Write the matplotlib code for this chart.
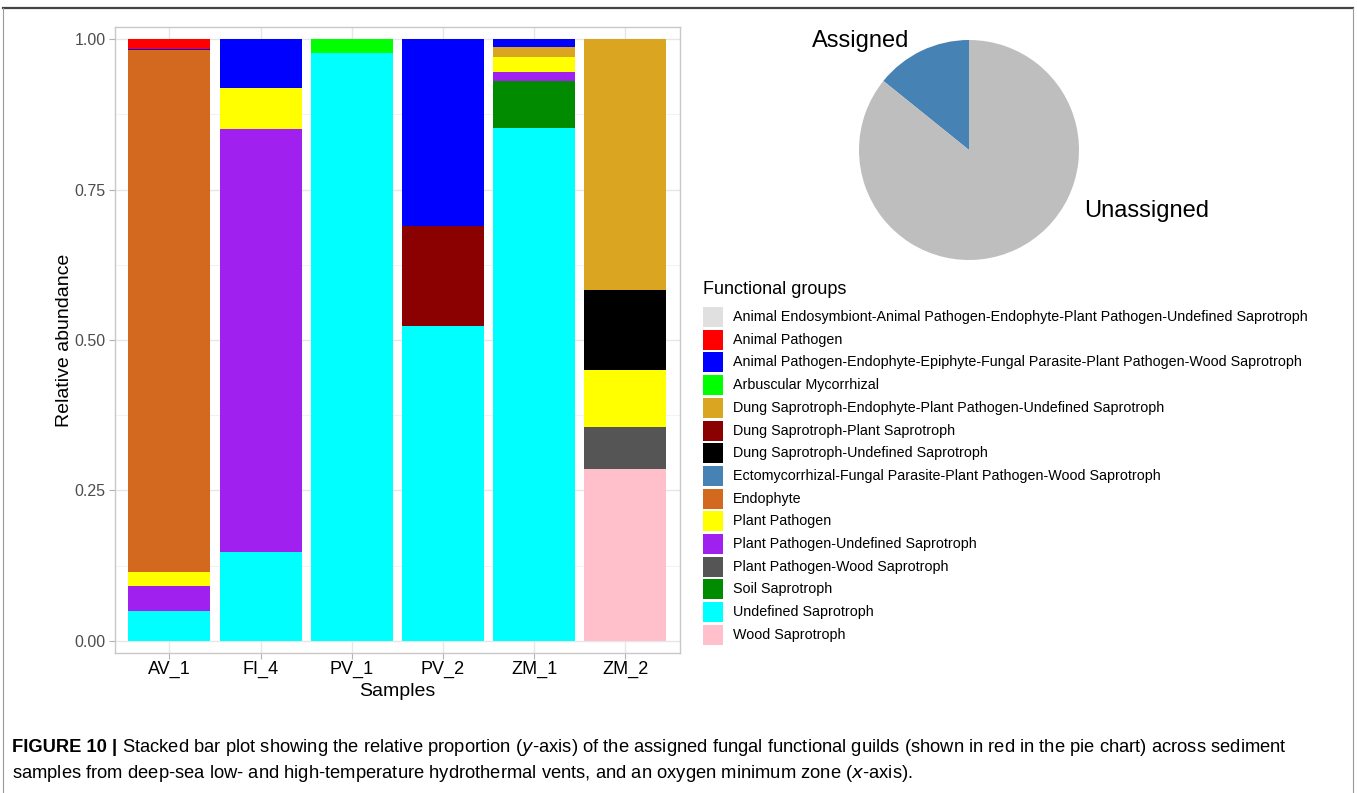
import matplotlib
matplotlib.use("Agg")
import matplotlib.pyplot as plt
import numpy as np
from matplotlib.patches import Rectangle
from matplotlib.lines import Line2D
from matplotlib.ticker import FixedLocator

plt.rcParams['font.family'] = ['Liberation Sans', 'DejaVu Sans']

W, H = 1357, 793

samples = ["AV_1", "FI_4", "PV_1", "PV_2", "ZM_1", "ZM_2"]

groups = [
    "Animal Endosymbiont-Animal Pathogen-Endophyte-Plant Pathogen-Undefined Saprotroph",
    "Animal Pathogen",
    "Animal Pathogen-Endophyte-Epiphyte-Fungal Parasite-Plant Pathogen-Wood Saprotroph",
    "Arbuscular Mycorrhizal",
    "Dung Saprotroph-Endophyte-Plant Pathogen-Undefined Saprotroph",
    "Dung Saprotroph-Plant Saprotroph",
    "Dung Saprotroph-Undefined Saprotroph",
    "Ectomycorrhizal-Fungal Parasite-Plant Pathogen-Wood Saprotroph",
    "Endophyte",
    "Plant Pathogen",
    "Plant Pathogen-Undefined Saprotroph",
    "Plant Pathogen-Wood Saprotroph",
    "Soil Saprotroph",
    "Undefined Saprotroph",
    "Wood Saprotroph",
]

group_colors = [
    "#e0e0e0", "#ff0000", "#0000ff", "#00ff00", "#daa520", "#8b0000",
    "#000000", "#4682b4", "#d2691e", "#ffff00", "#a020f0", "#555555",
    "#008b00", "#00ffff", "#ffc0cb",
]

# relative abundance of each guild per sample (AV_1, FI_4, PV_1, PV_2, ZM_1, ZM_2)
animal_endosymbiont = [0.000, 0.000, 0.000, 0.000, 0.000, 0.000]
animal_pathogen     = [0.016, 0.000, 0.000, 0.000, 0.000, 0.000]
animal_path_wood    = [0.002, 0.082, 0.000, 0.311, 0.014, 0.000]
arbuscular          = [0.000, 0.000, 0.024, 0.000, 0.000, 0.000]
dung_endo_plant     = [0.000, 0.000, 0.000, 0.000, 0.016, 0.417]
dung_plant_sap      = [0.000, 0.000, 0.000, 0.166, 0.000, 0.000]
dung_undef_sap      = [0.000, 0.000, 0.000, 0.000, 0.000, 0.133]
ectomycorrhizal     = [0.000, 0.000, 0.000, 0.000, 0.000, 0.000]
endophyte           = [0.868, 0.000, 0.000, 0.000, 0.000, 0.000]
plant_pathogen      = [0.023, 0.068, 0.000, 0.000, 0.025, 0.095]
plant_path_undef    = [0.042, 0.703, 0.000, 0.000, 0.015, 0.000]
plant_path_wood     = [0.000, 0.000, 0.000, 0.000, 0.000, 0.070]
soil_saprotroph     = [0.000, 0.000, 0.000, 0.000, 0.078, 0.000]
undefined_sap       = [0.049, 0.147, 0.976, 0.523, 0.852, 0.000]
wood_saprotroph     = [0.000, 0.000, 0.000, 0.000, 0.000, 0.285]

group_values = [
    animal_endosymbiont, animal_pathogen, animal_path_wood, arbuscular,
    dung_endo_plant, dung_plant_sap, dung_undef_sap, ectomycorrhizal,
    endophyte, plant_pathogen, plant_path_undef, plant_path_wood,
    soil_saprotroph, undefined_sap, wood_saprotroph,
]

pie_labels = ["Assigned", "Unassigned"]
pie_values = [0.142, 0.858]
pie_colors = ["#4682b4", "#bebebe"]

y_ticks = [0.00, 0.25, 0.50, 0.75, 1.00]
y_ticklabels = ["0.00", "0.25", "0.50", "0.75", "1.00"]


def fx(px):
    return px / W


def fy(py):
    return 1 - py / H


fig = plt.figure(figsize=(W / 100, H / 100), dpi=100)
fig.patch.set_facecolor("white")

# ---- stacked bar panel ----
L, R, T, B = 114.7, 680.0, 27.0, 653.0
ax = fig.add_axes([fx(L), fy(B), fx(R - L), (B - T) / H])
x = np.arange(1, len(samples) + 1)
bottom = np.zeros(len(samples))
for name, col, vals in reversed(list(zip(groups, group_colors, group_values))):
    v = np.array(vals)
    ax.bar(x, v, width=0.9, bottom=bottom, color=col, linewidth=0, zorder=3)
    bottom += v

ax.set_xlim(0.4, 6.6)
ax.set_ylim(-0.02, 1.02)
ax.set_xticks(x)
ax.set_xticklabels(samples, fontsize=13, color="black")
ax.yaxis.set_major_locator(FixedLocator(y_ticks))
ax.set_yticklabels(y_ticklabels, fontsize=11.5, color="#4d4d4d")
ax.yaxis.set_minor_locator(FixedLocator([0.125, 0.375, 0.625, 0.875]))
ax.tick_params(axis="both", which="major", length=4, width=0.8, color="#b3b3b3")
ax.tick_params(axis="x", which="major", pad=1.5)
ax.tick_params(axis="y", which="major", pad=2.5)
ax.tick_params(axis="y", which="minor", length=0)
ax.grid(True, which="major", color="#e6e6e6", linewidth=1.0, zorder=0)
ax.grid(True, which="minor", axis="y", color="#f0f0f0", linewidth=0.6, zorder=0)
ax.set_axisbelow(True)
for s in ax.spines.values():
    s.set_color("#c8c8c8")
    s.set_linewidth(1.0)
ax.set_xlabel("Samples", fontsize=14, labelpad=4)
ax.set_ylabel("Relative abundance", fontsize=14, labelpad=1)

# ---- pie chart of assigned vs unassigned ----
cx, cy, r = 969.0, 150.0, 110.0
pax = fig.add_axes([fx(cx - r), fy(cy + r), fx(2 * r), 2 * r / H])
pax.pie(pie_values, colors=pie_colors, startangle=90, counterclock=True,
        radius=1.0, wedgeprops=dict(linewidth=0))
pax.set_xlim(-1.0, 1.0)
pax.set_ylim(-1.0, 1.0)
pax.set_aspect("auto")
pax.axis("off")
fig.text(fx(861), fy(41), pie_labels[0], fontsize=17, ha="center", va="center")
fig.text(fx(1147), fy(211), pie_labels[1], fontsize=17, ha="center", va="center")

# ---- legend ----
fig.text(fx(703), fy(289), "Functional groups", fontsize=13, ha="left", va="center")
row0, step = 317.0, 22.7
for i, (name, col) in enumerate(zip(groups, group_colors)):
    yc = row0 + i * step
    fig.add_artist(Rectangle((fx(703), fy(yc + 10)), fx(20), 20 / H,
                             facecolor=col, edgecolor="none",
                             transform=fig.transFigure))
    fig.text(fx(733), fy(yc), name, fontsize=10.3, ha="left", va="center")

# ---- caption ----
cap_fs = 13.2
head = fig.text(fx(12), fy(748), "FIGURE 10 |", fontsize=cap_fs, fontweight="bold",
                ha="left", va="center")
renderer = fig.canvas.get_renderer()
head_w = head.get_window_extent(renderer=renderer).width
fig.text(fx(12) + (head_w + 5) / W, fy(748),
         "Stacked bar plot showing the relative proportion ($y$-axis) of the assigned "
         "fungal functional guilds (shown in red in the pie chart) across sediment",
         fontsize=cap_fs, ha="left", va="center")
fig.text(fx(12), fy(774),
         "samples from deep-sea low- and high-temperature hydrothermal vents, "
         "and an oxygen minimum zone ($x$-axis).",
         fontsize=cap_fs, ha="left", va="center")

# ---- outer frame ----
fig.add_artist(Line2D([fx(3), fx(1353)], [fy(8), fy(8)], color="#444444",
                      linewidth=1.6, transform=fig.transFigure))
fig.add_artist(Line2D([fx(3), fx(3)], [fy(8), fy(792)], color="#999999",
                      linewidth=0.8, transform=fig.transFigure))
fig.add_artist(Line2D([fx(1353), fx(1353)], [fy(8), fy(792)], color="#999999",
                      linewidth=0.8, transform=fig.transFigure))

fig.savefig("out.png", dpi=100)
